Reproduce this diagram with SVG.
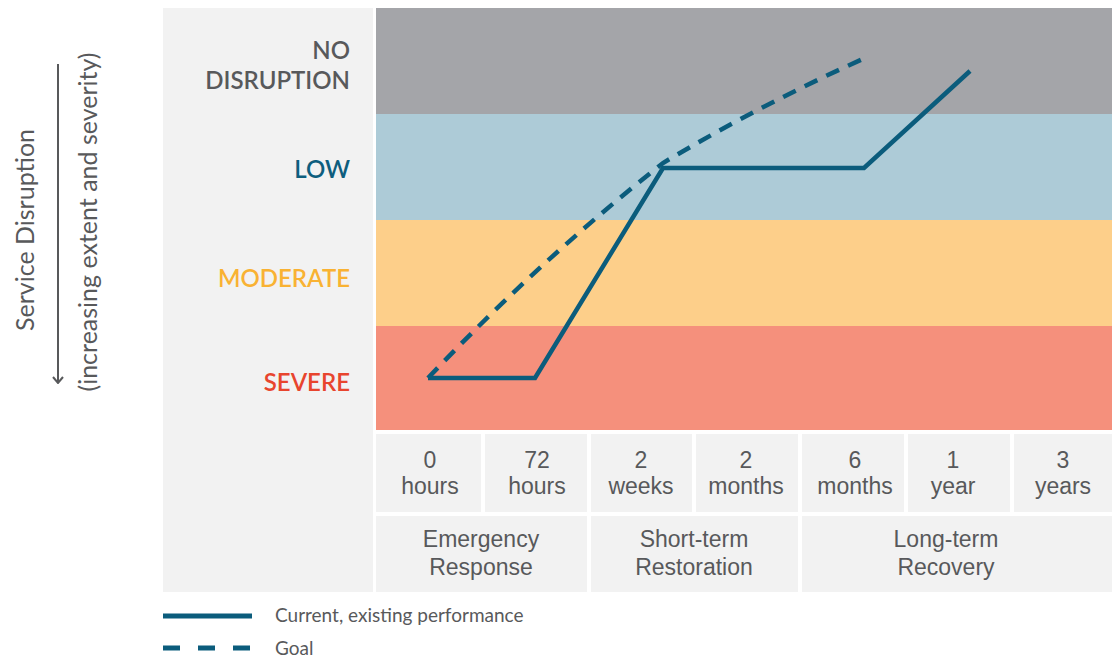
<svg xmlns="http://www.w3.org/2000/svg" width="1112" height="658" viewBox="0 0 1112 658">
<style>
.lvl{font-family:Lato,"Open Sans",sans-serif;font-weight:600;font-size:24px;text-anchor:end}
.cell{fill:#f2f2f2}
.ct{font-family:"Liberation Sans",Arial,sans-serif;font-size:23px;fill:#58595b;text-anchor:middle}
.ax{font-family:Lato,"Open Sans",sans-serif;font-size:25px;fill:#58595b;text-anchor:middle}
.lg{font-family:Lato,"Open Sans",sans-serif;font-size:19px;fill:#58595b}
.ln{fill:none;stroke:#0b5c7c;stroke-width:4.5;stroke-linejoin:miter}
</style>
<defs>
<marker id="ah" viewBox="0 0 10 12" refX="9" refY="6" markerWidth="10" markerHeight="12" markerUnits="userSpaceOnUse" orient="auto">
<path d="M3 1 L9 6 L3 11" fill="none" stroke="#58595b" stroke-width="2"/>
</marker>
</defs>
<rect width="1112" height="658" fill="#ffffff"/>
<g id="axis">
<line x1="58" y1="64" x2="58" y2="383" stroke="#58595b" stroke-width="2" marker-end="url(#ah)"/>
<text class="ax" transform="translate(34,230) rotate(-90)">Service Disruption</text>
<text class="ax" transform="translate(97,222) rotate(-90)">(increasing extent and severity)</text>
</g>
<g id="panel">
<rect x="163" y="8" width="210" height="584" fill="#f2f2f2"/>
</g>
<g id="bands">
<rect x="376" y="8" width="736" height="106" fill="#a4a5a9"/>
<rect x="376" y="114" width="736" height="106" fill="#adcbd7"/>
<rect x="376" y="220" width="736" height="106" fill="#fdcf8a"/>
<rect x="376" y="326" width="736" height="104" fill="#f5907c"/>
</g>
<g id="labels">
<text class="lvl" x="350" y="59" fill="#58595b">NO</text>
<text class="lvl" x="350" y="89" fill="#58595b">DISRUPTION</text>
<text class="lvl" x="350" y="178" fill="#0e5e7e">LOW</text>
<text class="lvl" x="350" y="287" fill="#f9b233">MODERATE</text>
<text class="lvl" x="350" y="391" fill="#e8452e">SEVERE</text>
</g>
<g id="times">
<rect class="cell" x="376" y="434" width="105" height="78"/>
<rect class="cell" x="485" y="434" width="102" height="78"/>
<rect class="cell" x="591" y="434" width="101" height="78"/>
<rect class="cell" x="696" y="434" width="102" height="78"/>
<rect class="cell" x="802" y="434" width="102" height="78"/>
<rect class="cell" x="908" y="434" width="102" height="78"/>
<rect class="cell" x="1014" y="434" width="98" height="78"/>
<text class="ct" x="430" y="468">0</text><text class="ct" x="430" y="494">hours</text>
<text class="ct" x="537" y="468">72</text><text class="ct" x="537" y="494">hours</text>
<text class="ct" x="641" y="468">2</text><text class="ct" x="641" y="494">weeks</text>
<text class="ct" x="746" y="468">2</text><text class="ct" x="746" y="494">months</text>
<text class="ct" x="855" y="468">6</text><text class="ct" x="855" y="494">months</text>
<text class="ct" x="953" y="468">1</text><text class="ct" x="953" y="494">year</text>
<text class="ct" x="1063" y="468">3</text><text class="ct" x="1063" y="494">years</text>
</g>
<g id="phases">
<rect class="cell" x="376" y="516" width="211" height="76"/>
<rect class="cell" x="591" y="516" width="207" height="76"/>
<rect class="cell" x="802" y="516" width="310" height="76"/>
<text class="ct" x="481" y="547">Emergency</text><text class="ct" x="481" y="575">Response</text>
<text class="ct" x="694" y="547">Short-term</text><text class="ct" x="694" y="575">Restoration</text>
<text class="ct" x="946" y="547">Long-term</text><text class="ct" x="946" y="575">Recovery</text>
</g>
<g id="connectors">
<polyline class="ln" points="428,378 535,378 663,168 864,168 970,71"/>
<path class="ln" d="M428,378 Q 540,260 663,163 Q 760,105 865,58" stroke-dasharray="14,10"/>
</g>
<g id="legend">
<line x1="163" y1="616" x2="252" y2="616" stroke="#0b5c7c" stroke-width="5"/>
<line x1="163" y1="648" x2="252" y2="648" stroke="#0b5c7c" stroke-width="5" stroke-dasharray="17,18"/>
<text class="lg" x="275" y="622">Current, existing performance</text>
<text class="lg" x="275" y="655">Goal</text>
</g>
</svg>
